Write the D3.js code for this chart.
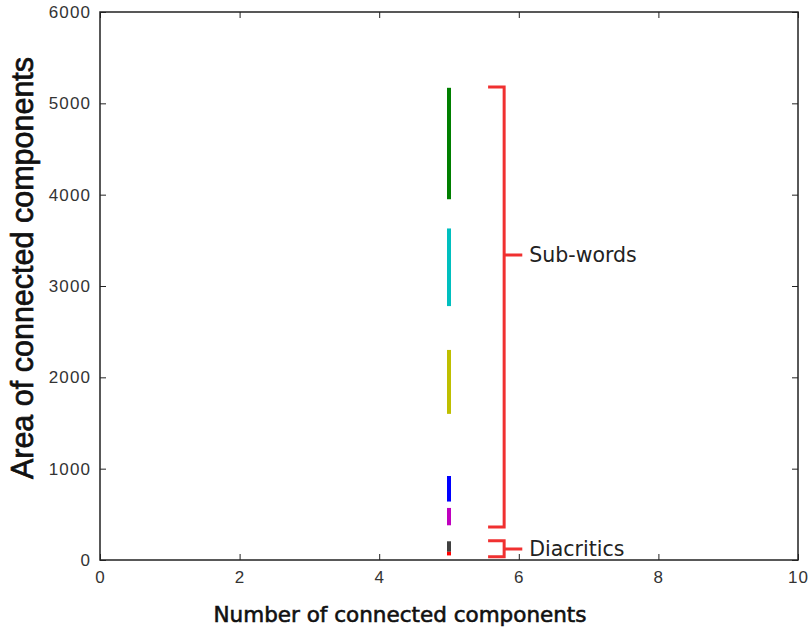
<!DOCTYPE html>
<html><head><meta charset="utf-8">
<script src="https://cdn.jsdelivr.net/npm/d3@7"></script>
<style>body{margin:0;background:#fff}svg{display:block}</style>
</head><body>
<svg id="c" width="811" height="634"></svg>
<script>
// Data
const xTicks = [0, 2, 4, 6, 8, 10];
const yTicks = [0, 1000, 2000, 3000, 4000, 5000, 6000];
const segNames = ["green", "cyan", "yellow", "blue", "magenta", "gray", "red"];
const segX = [5, 5, 5, 5, 5, 5, 5];
const segLow = [3950, 2780, 1600, 640, 380, 90, 50];
const segHigh = [5170, 3630, 2300, 920, 570, 205, 90];
const segColors = ["#007f00", "#00bfbf", "#bfbf00", "#0000ff", "#bf00bf", "#404040", "#ff0000"];
const bracketLabels = ["Sub-words", "Diacritics"];
const bracketLow = [360, 35];
const bracketHigh = [5180, 210];
const bracketMid = [3340, 120];

const svg = d3.select("#c");
const m = {l: 100, r: 798, t: 12, b: 560};
const x = d3.scaleLinear().domain([0, 10]).range([m.l, m.r]);
const y = d3.scaleLinear().domain([0, 6000]).range([m.b, m.t]);

svg.append("rect").attr("x", m.l).attr("y", m.t).attr("width", m.r - m.l).attr("height", m.b - m.t)
  .attr("fill", "none").attr("stroke", "#222").attr("stroke-width", 1.5);

const tickFont = "'Liberation Sans', Arial, sans-serif";
const xa = svg.append("g").attr("transform", `translate(0,${m.b})`)
  .call(d3.axisBottom(x).tickValues(xTicks).tickSize(-6).tickPadding(13).tickFormat(d3.format("d")));
const ya = svg.append("g").attr("transform", `translate(${m.l},0)`)
  .call(d3.axisLeft(y).tickValues(yTicks).tickSize(-6).tickPadding(9).tickFormat(d3.format("d")));
const xt = svg.append("g").attr("transform", `translate(0,${m.t})`)
  .call(d3.axisTop(x).tickValues(xTicks).tickSize(-6).tickFormat(""));
const yr = svg.append("g").attr("transform", `translate(${m.r},0)`)
  .call(d3.axisRight(y).tickValues(yTicks).tickSize(-6).tickFormat(""));
[xa, ya, xt, yr].forEach(g => {
  g.select(".domain").remove();
  g.selectAll("line").attr("stroke", "#222").attr("stroke-width", 1);
  g.selectAll("text").attr("font-family", tickFont).attr("font-size", 17)
    .attr("letter-spacing", "1.1px").attr("fill", "#333");
});
xa.selectAll("text").attr("dy", "0.6em");

svg.append("g").selectAll("line").data(segNames).join("line")
  .attr("x1", (d, i) => x(segX[i])).attr("x2", (d, i) => x(segX[i]))
  .attr("y1", (d, i) => y(segLow[i])).attr("y2", (d, i) => y(segHigh[i]))
  .attr("stroke", (d, i) => segColors[i]).attr("stroke-width", 4);

const bx0 = 5.56, bx1 = 5.79, bx2 = 6.05;
const red = "#f03030";
const bg = svg.append("g");
bracketLabels.forEach((lab, i) => {
  const p = `M${x(bx0)},${y(bracketHigh[i])}H${x(bx1)}V${y(bracketLow[i])}H${x(bx0)}M${x(bx1)},${y(bracketMid[i])}H${x(bx2)}`;
  bg.append("path").attr("d", p).attr("fill", "none").attr("stroke", red).attr("stroke-width", 3);
  bg.append("text").attr("x", x(bx2) + 7).attr("y", y(bracketMid[i])).attr("dy", "0.36em")
    .attr("font-family", "'DejaVu Sans', sans-serif").attr("font-size", 20.5).attr("fill", "#222").text(lab);
});

svg.append("text").attr("x", 400).attr("y", 622).attr("text-anchor", "middle")
  .attr("font-family", "'DejaVu Sans', sans-serif").attr("font-size", 21.5).attr("fill", "#111")
  .attr("stroke", "#111").attr("stroke-width", 0.6)
  .text("Number of connected components");
svg.append("text").attr("transform", `translate(33,268) rotate(-90)`).attr("text-anchor", "middle")
  .attr("font-family", "'Liberation Sans', Arial, sans-serif").attr("font-size", 30.5).attr("fill", "#111")
  .attr("stroke", "#111").attr("stroke-width", 0.7)
  .text("Area of connected components");
</script>
</body></html>
